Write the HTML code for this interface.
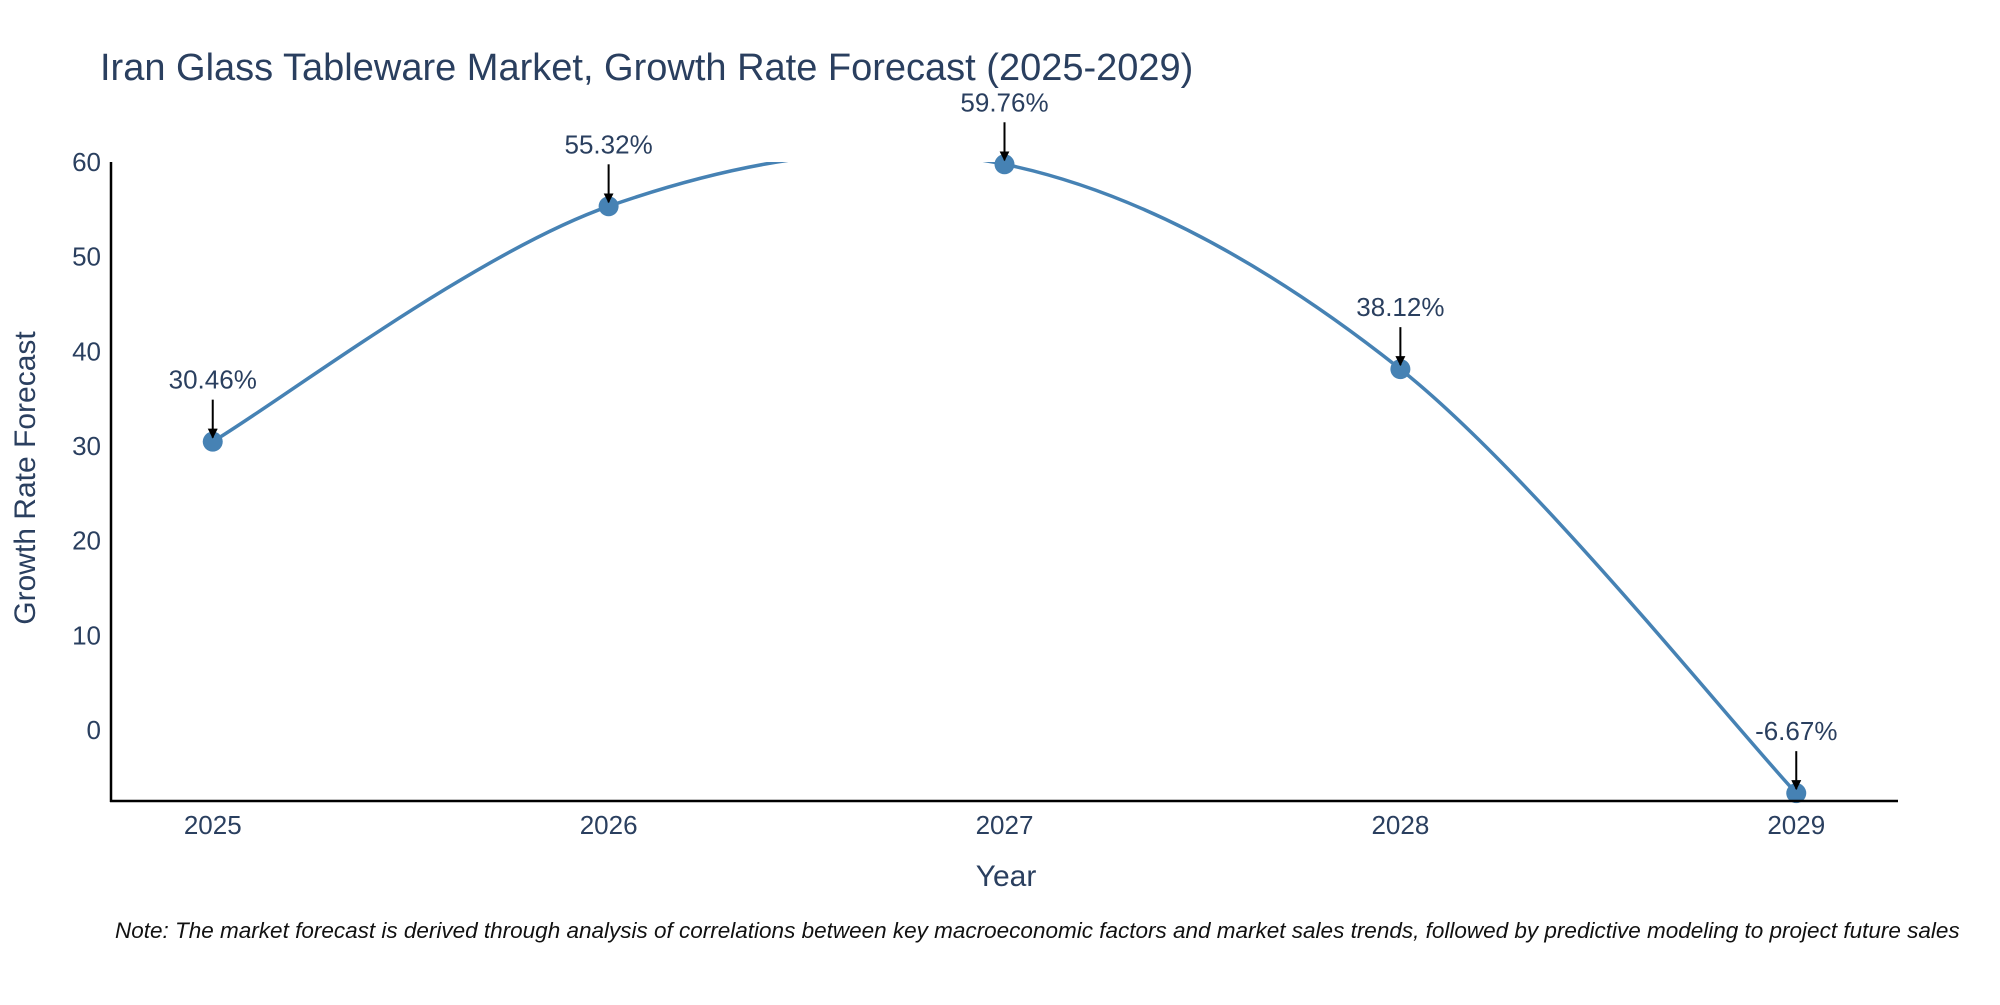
<!DOCTYPE html>
<html><head><meta charset="utf-8"><style>
body{margin:0;background:#fff;}
svg text{font-family:"Liberation Sans",sans-serif;fill:#2a3f5f;}
</style></head><body>
<svg width="2000" height="1000" viewBox="0 0 2000 1000">
<text x="100" y="80" font-size="38">Iran Glass Tableware Market, Growth Rate Forecast (2025-2029)</text>
<defs>
<clipPath id="plotclip"><rect x="111" y="162" width="1787" height="639"/></clipPath>
<marker id="ah" viewBox="0 0 10 10" refX="9" refY="5" markerWidth="5" markerHeight="5" orient="auto" markerUnits="strokeWidth"><path d="M0,0 L10,5 L0,10 z" fill="#000"/></marker>
</defs>
<g id="yticks"></g>
<g id="xticks"></g>
<path id="curve" clip-path="url(#plotclip)" fill="none" stroke="#4682b4" stroke-width="3.5"/>
<g id="points"></g>
<line x1="111" y1="162" x2="111" y2="802" stroke="#000" stroke-width="2.5"/>
<line x1="110" y1="801" x2="1898" y2="801" stroke="#000" stroke-width="2.5"/>
<g id="annots"></g>
<text x="1006" y="886" font-size="30" text-anchor="middle">Year</text>
<text transform="translate(35,478) rotate(-90)" font-size="30" text-anchor="middle">Growth Rate Forecast</text>
<text x="115" y="938" font-size="22.5" font-style="italic" style="fill:#111">Note: The market forecast is derived through analysis of correlations between key macroeconomic factors and market sales trends, followed by predictive modeling to project future sales</text>
</svg>
<script>
const years=[2025,2026,2027,2028,2029];
const values=[30.46,55.32,59.76,38.12,-6.67];
const labels=["30.46%","55.32%","59.76%","38.12%","-6.67%"];
const yTicks=[0,10,20,30,40,50,60];
const NS="http://www.w3.org/2000/svg";
const X0=111,X1=1898,Y0=801,Y1=162,xMin=2024.743,xMax=2029.257,yMin=-7.5,yMax=60;
function xs(v){return X0+(v-xMin)/(xMax-xMin)*(X1-X0);}
function ys(v){return Y0-(v-yMin)/(yMax-yMin)*(Y0-Y1);}
function mk(t,a){const e=document.createElementNS(NS,t);for(const k in a)e.setAttribute(k,a[k]);return e;}
const yt=document.getElementById('yticks');
yTicks.forEach(v=>{const t=mk('text',{x:101,y:ys(v)+9,'font-size':26,'text-anchor':'end'});


t.textContent=v;yt.appendChild(t);});
const xt=document.getElementById('xticks');
years.forEach(v=>{const t=mk('text',{x:xs(v),y:834,'font-size':26,'text-anchor':'middle'});


t.textContent=v;xt.appendChild(t);});
const P=years.map((y,i)=>[xs(y),ys(values[i])]);
let d="M"+P[0][0]+","+P[0][1];
for(let i=0;i<P.length-1;i++){
 const p0=P[i-1]||P[i],p1=P[i],p2=P[i+1],p3=P[i+2]||P[i+1];
 const c1=[p1[0]+(p2[0]-p0[0])/6,p1[1]+(p2[1]-p0[1])/6];
 const c2=[p2[0]-(p3[0]-p1[0])/6,p2[1]-(p3[1]-p1[1])/6];
 d+=` C${c1[0]},${c1[1]} ${c2[0]},${c2[1]} ${p2[0]},${p2[1]}`;
}
document.getElementById('curve').setAttribute('d',d);
const pts=document.getElementById('points'),an=document.getElementById('annots');
P.forEach((p,i)=>{
 const c=mk('circle',{cx:p[0],cy:p[1],r:10,fill:'#4682b4'});
 
 
 pts.appendChild(c);
 const l=mk('line',{x1:p[0],y1:p[1]-42,x2:p[0],y2:p[1]-4,stroke:'#000','stroke-width':2,'marker-end':'url(#ah)'});
 
 
 an.appendChild(l);
 const t=mk('text',{x:p[0],y:p[1]-53,'font-size':26,'text-anchor':'middle'});
 
 
 t.textContent=labels[i];an.appendChild(t);
});
</script>
</body></html>
